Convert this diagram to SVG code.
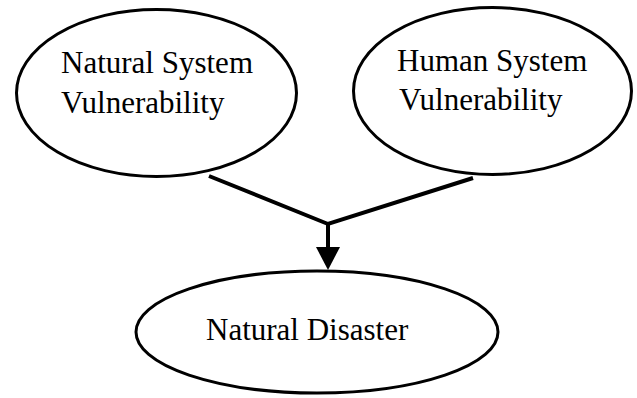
<svg xmlns="http://www.w3.org/2000/svg" width="637" height="398" viewBox="0 0 637 398">
<style>
.node ellipse{fill:#fff;stroke:#000;stroke-width:3}
.node text{font-family:'Liberation Serif','DejaVu Serif',serif;font-size:31px;fill:#000}
.conn{stroke:#000;stroke-width:4;fill:none;stroke-linecap:butt}
</style>
<rect width="637" height="398" fill="#fff"/>
<g id="connectors">
<path class="conn" d="M209,176 L328,224 L473,178"/>
<path class="conn" d="M328,224 L328,248" stroke-width="8"/>
<polygon points="316,247 340,247 328,270" fill="#000"/>
</g>
<g id="natural-system" class="node">
<ellipse cx="156.5" cy="93" rx="140" ry="83.5"/>
<text x="61" y="73">Natural System</text>
<text x="61" y="113">Vulnerability</text>
</g>
<g id="human-system" class="node">
<ellipse cx="492.5" cy="91" rx="139" ry="83.5"/>
<text x="397" y="71">Human System</text>
<text x="399" y="110">Vulnerability</text>
</g>
<g id="natural-disaster" class="node">
<ellipse cx="317" cy="332" rx="181" ry="61"/>
<text x="206" y="340">Natural Disaster</text>
</g>
</svg>
